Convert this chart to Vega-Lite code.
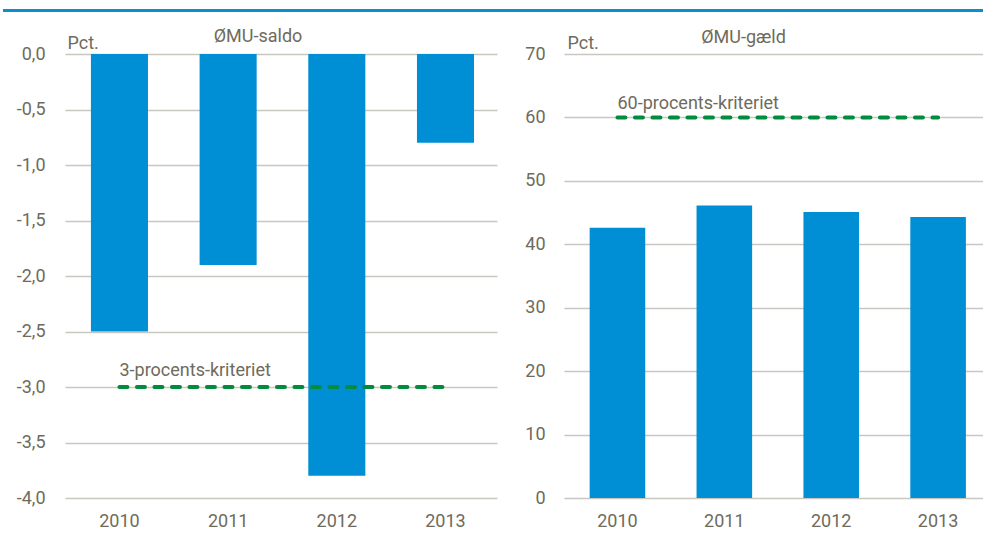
{
  "$schema": "https://vega.github.io/schema/vega-lite/v6.json",
  "padding": {"left": 2, "top": 9, "right": 0, "bottom": 0},
  "autosize": {"type": "pad"},
  "background": "white",
  "spacing": 16,
  "columns": 1,
  "align": "none",
  "config": {
    "view": {"stroke": null},
    "font": "Roboto",
    "axis": {
      "labelFont": "Roboto",
      "labelFontSize": 18,
      "labelColor": "#6f6b5c",
      "titleFont": "Roboto",
      "titleFontSize": 18,
      "titleFontWeight": "normal",
      "titleColor": "#6f6b5c",
      "gridColor": "#c9c8c0",
      "gridWidth": 1.5,
      "domain": false,
      "ticks": false
    },
    "title": {
      "font": "Roboto",
      "fontSize": 18,
      "fontWeight": "normal",
      "color": "#6f6b5c"
    }
  },
  "concat": [
    {
      "width": 980,
      "height": 3,
      "data": {"values": [{"from": -0.0633, "to": 1}]},
      "mark": {"type": "rect", "color": "#0a8fd0", "clip": false},
      "encoding": {
        "x": {"field": "from", "type": "quantitative", "scale": {"domain": [0, 1], "nice": false, "zero": false}, "axis": null},
        "x2": {"field": "to"}
      }
    },
    {
      "spacing": 23,
      "hconcat": [
        {
          "width": 432,
          "height": 444,
          "title": {"text": "ØMU-saldo", "dx": -23, "offset": -30, "anchor": "middle", "baseline": "bottom"},
          "layer": [
            {
              "data": {"values": [
                {"year": "2010", "value": -2.5},
                {"year": "2011", "value": -1.9},
                {"year": "2012", "value": -3.8},
                {"year": "2013", "value": -0.8}
              ]},
              "mark": {"type": "bar", "color": "#008fd5"},
              "encoding": {
                "x": {"field": "year", "type": "ordinal",
                  "scale": {"paddingInner": 0.475, "paddingOuter": 0.225, "align": 0.53},
                  "axis": {"title": null, "labelAngle": 0, "labelPadding": 14, "grid": false}},
                "y": {"field": "value", "type": "quantitative",
                  "scale": {"domain": [-4, 0], "nice": false},
                  "axis": {
                    "values": [0, -0.5, -1, -1.5, -2, -2.5, -3, -3.5, -4],
                    "labelExpr": "replace(replace(format(datum.value, '.1f'), '.', ','), '\u2212', '-')",
                    "labelPadding": 20,
                    "minExtent": 62,
                    "title": "Pct.",
                    "titleAngle": 0,
                    "titleX": 2,
                    "titleY": -6,
                    "titleAlign": "left",
                    "titleBaseline": "alphabetic"
                  }}
              }
            },
            {
              "data": {"values": [{"start": "2010", "end": "2013", "level": -3, "label": "3-procents-kriteriet"}]},
              "mark": {"type": "rule", "color": "#008c3c", "strokeWidth": 4, "strokeDash": [8, 9.5], "strokeCap": "round"},
              "encoding": {
                "x": {"field": "start", "type": "ordinal"},
                "x2": {"field": "end"},
                "y": {"field": "level", "type": "quantitative"}
              }
            },
            {
              "data": {"values": [{"start": "2010", "end": "2013", "level": -3, "label": "3-procents-kriteriet"}]},
              "mark": {"type": "text", "align": "left", "baseline": "alphabetic", "dy": -11, "fontSize": 18, "color": "#6f6b5c", "font": "Roboto"},
              "encoding": {
                "x": {"field": "start", "type": "ordinal"},
                "y": {"field": "level", "type": "quantitative"},
                "text": {"field": "label"}
              }
            }
          ]
        },
        {
          "width": 419,
          "height": 444,
          "title": {"text": "ØMU-gæld", "dx": -30, "offset": -31, "anchor": "middle", "baseline": "bottom"},
          "layer": [
            {
              "data": {"values": [
                {"year": "2010", "value": 42.6},
                {"year": "2011", "value": 46.1},
                {"year": "2012", "value": 45.1},
                {"year": "2013", "value": 44.3}
              ]},
              "mark": {"type": "bar", "color": "#008fd5"},
              "encoding": {
                "x": {"field": "year", "type": "ordinal",
                  "scale": {"paddingInner": 0.48, "paddingOuter": 0.2, "align": 0.6},
                  "axis": {"title": null, "labelAngle": 0, "labelPadding": 14, "grid": false}},
                "y": {"field": "value", "type": "quantitative",
                  "scale": {"domain": [0, 70], "nice": false},
                  "axis": {
                    "values": [0, 10, 20, 30, 40, 50, 60, 70],
                    "labelPadding": 19,
                    "minExtent": 44,
                    "title": "Pct.",
                    "titleAngle": 0,
                    "titleX": 3,
                    "titleY": -6,
                    "titleAlign": "left",
                    "titleBaseline": "alphabetic"
                  }}
              }
            },
            {
              "data": {"values": [{"start": "2010", "end": "2013", "level": 60, "label": "60-procents-kriteriet"}]},
              "mark": {"type": "rule", "color": "#008c3c", "strokeWidth": 4, "strokeDash": [8, 9.5], "strokeCap": "round"},
              "encoding": {
                "x": {"field": "start", "type": "ordinal"},
                "x2": {"field": "end"},
                "y": {"field": "level", "type": "quantitative"}
              }
            },
            {
              "data": {"values": [{"start": "2010", "end": "2013", "level": 60, "label": "60-procents-kriteriet"}]},
              "mark": {"type": "text", "align": "left", "baseline": "alphabetic", "dy": -8, "fontSize": 18, "color": "#6f6b5c", "font": "Roboto"},
              "encoding": {
                "x": {"field": "start", "type": "ordinal"},
                "y": {"field": "level", "type": "quantitative"},
                "text": {"field": "label"}
              }
            }
          ]
        }
      ]
    }
  ]
}
